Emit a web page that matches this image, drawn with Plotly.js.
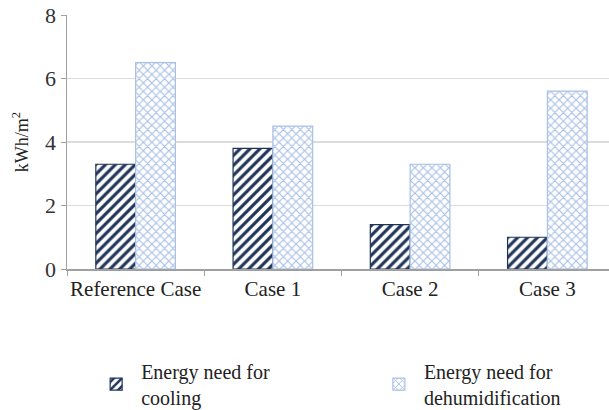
<!DOCTYPE html>
<html><head><meta charset="utf-8">
<script src="https://cdn.plot.ly/plotly-3.0.1.min.js"></script>
<style>html,body{margin:0;padding:0;overflow:hidden;background:#fff}</style>
</head><body><div id="chart"></div>
<script>
const categories = ["Reference Case", "Case 1", "Case 2", "Case 3"];
const coolingValues = [3.3, 3.8, 1.4, 1.0];
const dehumValues = [6.5, 4.5, 3.3, 5.6];
const seriesNames = ["Energy need for<br>cooling", "Energy need for<br>dehumidification"];
const yTicks = [0, 2, 4, 6, 8];

const serif = "Times New Roman";
const traces = [
  {type: "bar", x: categories, y: coolingValues, name: seriesNames[0], legend: "legend",
   marker: {color: "#ffffff", line: {color: "#1f3458", width: 1.2},
     pattern: {shape: "/", fgcolor: "#1f3458", bgcolor: "#ffffff", size: 7, solidity: 0.45}}},
  {type: "bar", x: categories, y: dehumValues, name: seriesNames[1], legend: "legend2",
   marker: {color: "#ffffff", line: {color: "#a9c0e6", width: 1.2},
     pattern: {shape: "x", fgcolor: "#a9c0e6", bgcolor: "#ffffff", size: 6, solidity: 0.35}}}
];
const legendCommon = {orientation: "v", xanchor: "left", yanchor: "top",
  font: {family: serif, size: 20, color: "#222"}, itemwidth: 40, bgcolor: "rgba(0,0,0,0)"};
const layout = {
  width: 616, height: 410,
  margin: {l: 67, r: 0, t: 15, b: 141, autoexpand: false},
  barmode: "group", bargap: 0.42, bargroupgap: 0,
  paper_bgcolor: "#fff", plot_bgcolor: "#fff",
  font: {family: serif, color: "#222", size: 16},
  showlegend: true,
  legend: Object.assign({}, legendCommon, {x: 0.044, y: -0.325}),
  legend2: Object.assign({}, legendCommon, {x: 0.559, y: -0.325}),
  xaxis: {showline: true, linecolor: "#a0a0a0", linewidth: 1.5, ticks: "outside",
    tickson: "boundaries", ticklen: 5, tickcolor: "#a0a0a0", showgrid: false, tickangle: 0,
    tickfont: {family: serif, size: 21, color: "#222"}},
  yaxis: {range: [0, 8], tickvals: yTicks, showline: true, linecolor: "#a0a0a0", linewidth: 1.5,
    ticks: "outside", ticklen: 5, tickcolor: "#a0a0a0", gridcolor: "#dcdcdc", gridwidth: 1.2,
    zeroline: false, tickfont: {family: serif, size: 22, color: "#333"},
    title: {text: "kWh/m<sup>2</sup>", font: {family: serif, size: 18, color: "#222"}, standoff: 12}}
};
Plotly.newPlot("chart", traces, layout, {displayModeBar: false, staticPlot: true});
</script></body></html>
